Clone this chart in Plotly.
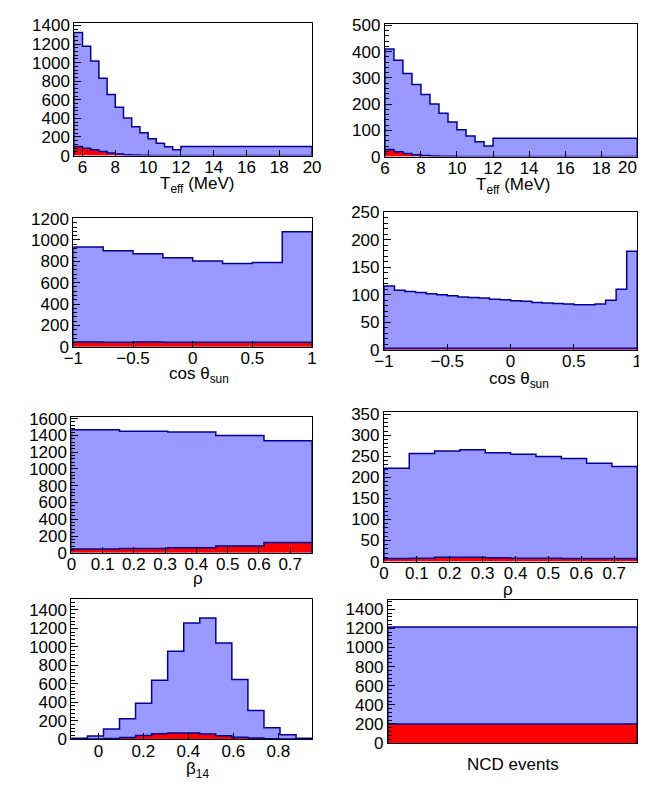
import plotly.graph_objects as go

W, H = 647, 789
FONT = "Liberation Sans, Arial, Helvetica, sans-serif"
BLUE = "#9999ff"
NAVY = "#000099"
RED = "#ff0000"

# ---------------- data ----------------
# Panel 1: T_eff (left)
teff_edges_a = [5.5, 6.0, 6.5, 7.0, 7.5, 8.0, 8.5, 9.0, 9.5, 10.0, 10.5, 11.0, 11.5, 12.0, 20.0]
teff_total_a = [1325, 1175, 1018, 832, 656, 519, 404, 309, 246, 182, 133, 95, 63, 98]
teff_bkg_a = [98, 80, 64, 45, 28, 17, 9, 5, 3, 2, 1, 1, 1, 1]

# Panel 2: T_eff (right)
teff_edges_b = [6.0, 6.5, 7.0, 7.5, 8.0, 8.5, 9.0, 9.5, 10.0, 10.5, 11.0, 11.5, 12.0, 20.0]
teff_total_b = [410, 367, 317, 275, 237, 200, 165, 132, 102, 78, 56, 40, 70]
teff_bkg_b = [27, 18, 12, 7, 4, 2, 1, 1, 0.5, 0.5, 0.3, 0.3, 0.5]
teff_ticks_b = [6, 8, 10, 12, 14, 16, 18]

# Panel 3: cos theta_sun (left)
cos_edges_a = [-1.0, -0.75, -0.5, -0.25, 0.0, 0.25, 0.5, 0.75, 1.0]
cos_total_a = [933, 900, 870, 833, 803, 779, 788, 1076]
cos_bkg_a = [45, 44, 45, 44, 44, 44, 44, 44]

# Panel 4: cos theta_sun (right), 24 bins
cos_edges_b = [-1.0, -0.9167, -0.8333, -0.75, -0.6667, -0.5833, -0.5, -0.4167, -0.3333,
               -0.25, -0.1667, -0.0833, 0.0, 0.0833, 0.1667, 0.25, 0.3333, 0.4167, 0.5,
               0.5833, 0.6667, 0.75, 0.8333, 0.9167, 1.0]
cos_total_b = [116, 108, 106, 104, 102, 100, 98, 96, 95, 94, 92, 91,
               89, 88, 86, 85, 84, 83, 82, 82, 83, 90, 110, 179]
cos_bkg_b = [3] * 24

# Panel 5: rho (left)
rho_edges_a = [0.0, 0.154, 0.308, 0.462, 0.616, 0.77]
rho_total_a = [1468, 1450, 1442, 1400, 1335]
rho_bkg_a = [45, 52, 60, 80, 122]

# Panel 6: rho (right)
rho_edges_b = [0.0, 0.077, 0.154, 0.231, 0.308, 0.385, 0.462, 0.539, 0.616, 0.693, 0.77]
rho_total_b = [222, 257, 263, 266, 259, 255, 250, 245, 234, 226]
rho_bkg_b = [7, 8, 10, 10, 9, 8, 8, 7, 7, 7]

# Panel 7: beta_14
beta_edges = [-0.12, -0.0487, 0.0227, 0.094, 0.1653, 0.2367, 0.308, 0.3793, 0.4507,
              0.522, 0.5933, 0.6647, 0.736, 0.8073, 0.8787, 0.95]
beta_total = [10, 35, 110, 222, 390, 639, 954, 1260, 1312, 1042, 646, 312, 123, 49, 10]
beta_bkg = [1, 3, 8, 18, 40, 60, 67, 68, 55, 38, 22, 12, 5, 2, 1]

# Panel 8: NCD events
ncd_edges = [0.0, 1.0]
ncd_total = [1213]
ncd_bkg = [200]

# ---------------- layout spec (pixels) ----------------
panels = [
    dict(edges=teff_edges_a, tot=teff_total_a, bkg=teff_bkg_a, px=(58, 303), py=(6, 142),
         xr=[5.5, 20], yr=[0, 1428], xd=2, x0=6, yd=200, ym=40,
         title="T<sub>eff</sub> (MeV)", tpos=(184, 172)),
    dict(edges=teff_edges_b, tot=teff_total_b, bkg=teff_bkg_b, px=(378, 638), py=(7, 143),
         xr=[6, 20], yr=[0, 506], xd=2, x0=6, yd=100, ym=20, xtv=teff_ticks_b,
         title="T<sub>eff</sub> (MeV)", tpos=(510, 173)),
    dict(edges=cos_edges_a, tot=cos_total_a, bkg=cos_bkg_a, px=(57, 303), py=(206, 338),
         xr=[-1, 1], yr=[0, 1205], xd=0.5, x0=-1, yd=200, ym=40,
         title="cos θ<sub>sun</sub>", tpos=(186, 367)),
    dict(edges=cos_edges_b, tot=cos_total_b, bkg=cos_bkg_b, px=(377, 638), py=(200, 341),
         xr=[-1, 1], yr=[0, 250], xd=0.5, x0=-1, yd=50, ym=10,
         title="cos θ<sub>sun</sub>", tpos=(516, 372)),
    dict(edges=rho_edges_a, tot=rho_total_a, bkg=rho_bkg_a, px=(55, 303), py=(410, 549),
         xr=[0, 0.77], yr=[0, 1618], xd=0.1, x0=0, yd=200, ym=40,
         title="ρ", tpos=(185, 575)),
    dict(edges=rho_edges_b, tot=rho_total_b, bkg=rho_bkg_b, px=(377, 638), py=(405, 558),
         xr=[0, 0.77], yr=[0, 355], xd=0.1, x0=0, yd=50, ym=10,
         title="ρ", tpos=(505, 587)),
    dict(edges=beta_edges, tot=beta_total, bkg=beta_bkg, px=(55, 303), py=(596, 740),
         xr=[-0.12, 0.95], yr=[0, 1523], xd=0.2, x0=0, yd=200, ym=40,
         title="β<sub>14</sub>", tpos=(185, 772)),
    dict(edges=ncd_edges, tot=ncd_total, bkg=ncd_bkg, px=(381, 638), py=(597, 744),
         xr=[0, 1], yr=[0, 1500], xd=None, x0=0, yd=200, ym=40,
         title="NCD events", tpos=(510, 766)),
]


def step(edges, vals):
    x = [edges[0]] + list(edges) + [edges[-1]]
    y = [0] + list(vals) + [vals[-1], 0]
    return x, y


def ann(text, px, py, xanchor="center"):
    return dict(text=text, x=px / W, y=1 - py / H, xref="paper", yref="paper",
                showarrow=False, xanchor=xanchor, yanchor="middle",
                font=dict(family=FONT, size=17, color="black"))


fig = go.Figure()
layout = dict(width=W, height=H, margin=dict(l=0, r=0, t=0, b=0, pad=0),
              paper_bgcolor="white", plot_bgcolor="white", showlegend=False,
              font=dict(family=FONT, size=17, color="black"))
annotations = []

for i, p in enumerate(panels, start=1):
    xa = "x" if i == 1 else f"x{i}"
    ya = "y" if i == 1 else f"y{i}"
    x, y = step(p["edges"], p["tot"])
    fig.add_trace(go.Scatter(x=x, y=y, mode="lines", line=dict(shape="hv", color=NAVY, width=1.5),
                             fill="tozeroy", fillcolor=BLUE, xaxis=xa, yaxis=ya, hoverinfo="skip"))
    x, y = step(p["edges"], p["bkg"])
    fig.add_trace(go.Scatter(x=x, y=y, mode="lines", line=dict(shape="hv", color=NAVY, width=1.5),
                             fill="tozeroy", fillcolor=RED, xaxis=xa, yaxis=ya, hoverinfo="skip"))

    common = dict(showline=True, linecolor="black", linewidth=1, mirror=True,
                  showgrid=False, zeroline=False, tickcolor="black", tickwidth=1,
                  tickfont=dict(family=FONT, size=17, color="black"))
    xaxis = dict(common, domain=[p["px"][0] / W, p["px"][1] / W], anchor=ya, range=p["xr"],
                 ticklabelstandoff=-4)
    if p["xd"] is None:
        xaxis.update(ticks="", showticklabels=False)
    elif "xtv" in p:
        xaxis.update(ticks="inside", ticklen=6, tickmode="array", tickvals=p["xtv"])
    else:
        xaxis.update(ticks="inside", ticklen=6, tick0=p["x0"], dtick=p["xd"])
    yaxis = dict(common, domain=[1 - p["py"][1] / H, 1 - p["py"][0] / H], anchor=xa,
                 range=p["yr"], ticks="inside", ticklen=7, tick0=0, dtick=p["yd"],
                 minor=dict(ticks="inside", ticklen=4, tickcolor="black",
                            dtick=p["ym"], showgrid=False))
    layout["xaxis" if i == 1 else f"xaxis{i}"] = xaxis
    layout["yaxis" if i == 1 else f"yaxis{i}"] = yaxis
    annotations.append(ann(p["title"], p["tpos"][0], p["tpos"][1]))

# last T_eff label of the right panel is pulled inside the pad, as in the original
annotations.append(ann(str(teff_edges_b[-1]).rstrip("0").rstrip("."), 628, 154))

layout["annotations"] = annotations
fig.update_layout(**layout)
fig.write_html("out.html")
